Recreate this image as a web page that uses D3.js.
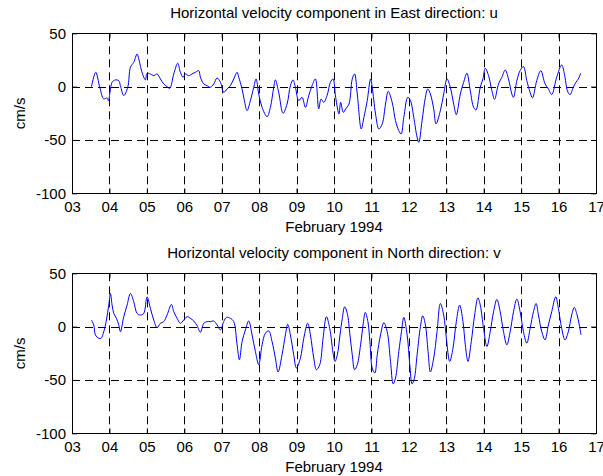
<!DOCTYPE html>
<html>
<head>
<meta charset="utf-8">
<script src="https://cdn.jsdelivr.net/npm/d3@7"></script>
<style>
  html, body { margin: 0; padding: 0; background: #fff; }
  svg { display: block; }
  text { font-family: "Liberation Sans", Arial, Helvetica, sans-serif; fill: #000; }
</style>
</head>
<body>
<svg id="chart" width="603" height="476"></svg>
<script>
// ---- data (day of February 1994, velocity in cm/s) ----
const dayTicks = [3,4,5,6,7,8,9,10,11,12,13,14,15,16,17];
const yTicks = [-100,-50,0,50];
const xLabel = "February 1994";
const yLabel = "cm/s";
const titles = ["Horizontal velocity component in East direction: u",
                "Horizontal velocity component in North direction: v"];

const tU = [3.519,3.635,3.742,3.849,3.938,3.973,4.071,4.160,4.249,4.294,
4.383,4.490,4.561,4.650,4.739,4.784,4.846,4.917,4.962,5.006,
5.095,5.184,5.273,5.362,5.451,5.540,5.612,5.719,5.825,5.896,
5.968,6.030,6.119,6.208,6.297,6.386,6.431,6.520,6.609,6.698,
6.787,6.876,6.965,7.054,7.143,7.232,7.321,7.411,7.455,7.544,
7.606,7.678,7.767,7.856,7.918,7.989,8.078,8.212,8.301,8.390,
8.434,8.523,8.639,8.746,8.835,8.906,8.969,9.058,9.147,9.236,
9.325,9.414,9.503,9.592,9.654,9.726,9.815,9.904,9.975,10.044,
10.133,10.178,10.249,10.311,10.400,10.488,10.551,10.622,10.728,10.799,
10.888,10.977,11.021,11.110,11.199,11.288,11.377,11.448,11.554,11.643,
11.732,11.794,11.865,11.972,12.043,12.131,12.220,12.265,12.353,12.442,
12.504,12.575,12.664,12.726,12.842,12.931,13.020,13.108,13.197,13.268,
13.375,13.464,13.552,13.641,13.730,13.792,13.908,13.979,14.041,14.130,
14.218,14.289,14.396,14.485,14.574,14.662,14.751,14.796,14.885,14.973,
15.062,15.151,15.240,15.302,15.417,15.524,15.639,15.728,15.817,15.950,
16.083,16.172,16.234,16.305,16.394,16.465,16.528,16.590];
const uVals = [0,13.4,-0.6,-11.6,-10.6,-13.1,4.1,6.3,5.6,0.9,
-8.4,-0.6,18.1,22.8,30.6,26,16.6,8.8,6.3,12.5,
11.9,10.3,11.9,7.2,2.5,0,-1.6,11.9,21.9,13.4,
8.8,11.9,10.3,11.9,13.4,15,8.8,2.5,0.9,-0.6,
2.5,8.1,4.1,-5.3,-2.2,0.9,7.2,13.4,8.8,-2.2,
-13.1,-22.5,-13.1,-0.6,7.2,-6.9,-19.4,-28.1,-19.4,-0.6,
6.3,-5.3,-25,-16.3,0.9,6.3,-0.6,-13.1,-10,-19.4,
-8.4,0.9,7.2,-20.9,-11.6,-14.7,-8.4,4.1,7.2,-10,
-25.6,-14.7,-24.1,-20.9,-16.3,7.2,11.9,-6.9,-39.7,-28.8,
-13.1,7.2,-0.6,-25.6,-39.7,-35,-16.3,-4.4,-14.7,-31.9,
-41.3,-44.4,-28.8,-10,-13.1,-28.8,-47.5,-52.2,-31.9,-10,
-2.2,-6.9,-20.9,-35,-22.5,-6.9,7.2,-0.6,-16.3,-26.3,
-6.9,4.1,12.5,-3.8,-19.4,-21.9,-0.6,7.2,17.2,10.3,
-3.8,-11.9,2.5,8.8,15.6,7.2,-6.9,-10,5.6,15,
18.8,5.6,-5.3,-10.6,5.6,15,2.5,-2.2,-7.5,8.8,
20.3,8.8,-3.8,-7.5,-0.6,4.1,7.2,12.5];

const tV = [3.519,3.581,3.626,3.715,3.777,3.849,3.920,3.982,4.027,4.071,
4.116,4.187,4.249,4.294,4.383,4.472,4.561,4.650,4.739,4.828,
4.917,5.006,5.095,5.184,5.273,5.362,5.451,5.540,5.656,5.719,
5.808,5.897,5.986,6.075,6.164,6.253,6.342,6.431,6.520,6.609,
6.698,6.787,6.876,6.965,7.054,7.126,7.232,7.321,7.411,7.473,
7.544,7.633,7.722,7.811,7.900,7.989,8.078,8.167,8.256,8.345,
8.434,8.506,8.612,8.701,8.764,8.835,8.924,8.996,9.103,9.192,
9.298,9.370,9.459,9.530,9.619,9.708,9.797,9.886,
9.982,10.027,10.089,10.160,10.222,10.284,10.355,10.426,10.488,10.551,
10.622,10.710,10.782,10.835,10.906,10.959,11.021,11.092,11.155,11.243,
11.332,11.421,11.510,11.581,11.643,11.732,11.803,11.865,11.954,12.025,
12.087,12.149,12.220,12.309,12.371,12.442,12.513,12.575,12.664,12.753,
12.842,12.931,13.002,13.091,13.179,13.268,13.357,13.446,13.508,13.579,
13.668,13.757,13.845,13.908,13.996,14.085,14.174,14.263,14.352,14.440,
14.529,14.618,14.707,14.796,14.885,14.973,15.062,15.151,15.240,15.329,
15.400,15.462,15.551,15.639,15.728,15.817,15.924,15.995,16.083,16.172,
16.261,16.350,16.421,16.483,16.554,16.599];
const vVals = [6.2,1.6,-7.8,-10.9,-10.9,-4.7,6.2,20.2,31.1,20.2,
12.4,7.8,1.6,-4.7,9.3,20.2,31.1,23.3,12.4,10.9,
12.4,27.9,17.1,6.2,-0.9,3.1,4.7,10.9,20.8,14,
7.8,3.1,6.2,9.3,7.8,5.3,0.9,-5.3,3.1,4.7,
4.7,5.3,1.6,-3.1,4.7,8.7,7.8,4.7,-17.1,-31.1,
-14,-3.1,5.3,-7.8,-23.3,-35.7,-17.1,-6.2,-4,-14,
-29.5,-42.5,-26.4,-7.8,2.2,-7.8,-26.4,-38.8,-29.5,-10.9,
3.1,-7.8,-29.5,-40.4,-35.7,-10.9,9.3,-1.6,
-26.4,-32.6,-26.4,-7.8,7.8,18.6,12.4,-7.8,-26.4,-40.4,
-35.7,-17.1,3.1,13.4,4.7,-14,-38.8,-43.5,-26.4,-7.8,
3.7,-4.7,-32.6,-53.7,-48.1,-23.3,-4.7,8.7,-7.8,-35.7,
-53.7,-48.1,-26.4,0,10.2,1.6,-23.3,-42.5,-29.5,-4.7,
21.7,10.9,-10.9,-32.6,-20.2,4.7,20.2,4.7,-17.1,-32.6,
-14,10.9,27,20.2,-1.6,-18.6,-4.7,14,25.5,14,
-4.7,-17.1,-4.7,14,25.8,14,-4.7,-15.5,-1.6,14,
21.7,10.9,-4.7,-12.4,1.6,14,28,17.1,-1.6,-12.4,
-4.7,10.9,18,12.4,1.6,-7.8];

// ---- layout ----
const svg = d3.select("#chart");
const L = 72, R = 596;
const panels = [
  {top: 33.3, bottom: 193.3, title: titles[0], t: tU, v: uVals},
  {top: 273.3, bottom: 433.3, title: titles[1], t: tV, v: vVals}
];
const FS = 15;

panels.forEach(p => {
  const x = d3.scaleLinear().domain([3, 17]).range([L, R]);
  const y = d3.scaleLinear().domain([-100, 50]).range([p.bottom, p.top]);
  const g = svg.append("g");

  // grid
  g.append("g").selectAll("line").data(dayTicks.slice(1, -1)).join("line")
    .attr("x1", d => Math.round(x(d)) + 0.5).attr("x2", d => Math.round(x(d)) + 0.5)
    .attr("y1", p.top).attr("y2", p.bottom)
    .attr("stroke", "#000").attr("stroke-width", 1).attr("stroke-dasharray", "8,5");
  g.append("g").selectAll("line").data(yTicks.slice(1, -1)).join("line")
    .attr("x1", L).attr("x2", R)
    .attr("y1", d => Math.round(y(d)) + 0.5).attr("y2", d => Math.round(y(d)) + 0.5)
    .attr("stroke", "#000").attr("stroke-width", 1).attr("stroke-dasharray", "8,5");

  // data line
  const pts = p.t.map((t, i) => [t, p.v[i]]);
  g.append("path").datum(pts)
    .attr("fill", "none").attr("stroke", "#0000ff").attr("stroke-width", 1)
    .attr("stroke-linejoin", "round")
    .attr("d", d3.line().curve(d3.curveCatmullRom.alpha(0.5)).x(d => x(d[0])).y(d => y(d[1])));

  // axes
  const fmt = d => String(d).padStart(2, "0");
  g.append("g").attr("transform", `translate(0,${p.bottom})`)
    .call(d3.axisBottom(x).tickValues(dayTicks).tickFormat(fmt).tickSizeInner(-5).tickSizeOuter(0).tickPadding(8))
    .call(a => a.select(".domain").remove());
  g.append("g").attr("transform", `translate(0,${p.top})`)
    .call(d3.axisTop(x).tickValues(dayTicks).tickFormat("").tickSizeInner(-5).tickSizeOuter(0))
    .call(a => a.select(".domain").remove());
  g.append("g").attr("transform", `translate(${L},0)`)
    .call(d3.axisLeft(y).tickValues(yTicks).tickFormat(d => String(d)).tickSizeInner(-5).tickSizeOuter(0).tickPadding(6))
    .call(a => a.select(".domain").remove());
  g.append("g").attr("transform", `translate(${R},0)`)
    .call(d3.axisRight(y).tickValues(yTicks).tickFormat("").tickSizeInner(-5).tickSizeOuter(0))
    .call(a => a.select(".domain").remove());
  g.selectAll(".tick line").attr("stroke", "#000");
  g.selectAll(".tick text").attr("font-size", FS).attr("font-family", '"Liberation Sans", Arial, sans-serif').attr("fill", "#000");

  // box
  g.append("rect").attr("x", L + 0.5).attr("y", Math.round(p.top) + 0.5)
    .attr("width", R - L).attr("height", Math.round(p.bottom) - Math.round(p.top))
    .attr("fill", "none").attr("stroke", "#000").attr("stroke-width", 1);

  // labels
  g.append("text").attr("x", (L + R) / 2).attr("y", p.top - 15)
    .attr("text-anchor", "middle").attr("font-size", FS).text(p.title);
  g.append("text").attr("x", (L + R) / 2).attr("y", p.bottom + 38.5)
    .attr("text-anchor", "middle").attr("font-size", FS).text(xLabel);
  g.append("text").attr("transform", `translate(25,${(p.top + p.bottom) / 2}) rotate(-90)`)
    .attr("text-anchor", "middle").attr("font-size", FS).text(yLabel);
});
</script>
</body>
</html>
